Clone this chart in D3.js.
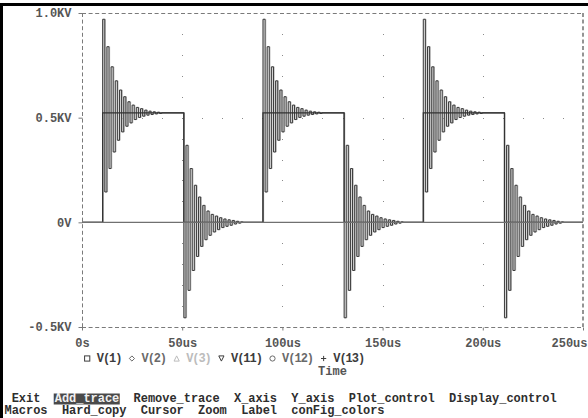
<!DOCTYPE html>
<html>
<head>
<meta charset="utf-8">
<script src="https://cdn.jsdelivr.net/npm/d3@7"></script>
<style>
  body { margin: 0; background: #fff; }
  svg { display: block; }
  text { font-family: "Liberation Mono", "DejaVu Sans Mono", monospace; font-size: 12px; font-weight: bold; }
</style>
</head>
<body>
<div id="container"></div>
<script>
// axis ticks
const xTicks = [0, 50, 100, 150, 200, 250];
const xTickLabels = ["0s", "50us", "100us", "150us", "200us", "250us"];
const yTicks = [-0.5, 0, 0.5, 1.0];
const yTickLabels = ["-0.5KV", "0V", "0.5KV", "1.0KV"];

// square input V(1), times in us, levels in KV
const riseTimes = [10.3, 90.3, 170.3];
const fallTimes = [50.8, 130.8, 210.8];
const highLevel = 0.523;

// ringing extremes, one every ringStep us
const ringStep = 1.05;
const ringRise = [0.970, 0.145, 0.839, 0.257, 0.743, 0.336, 0.676, 0.392, 0.632, 0.432,
                  0.600, 0.459, 0.576, 0.475, 0.560, 0.491, 0.549, 0.501, 0.543, 0.507,
                  0.536, 0.512, 0.531, 0.515, 0.528, 0.518, 0.526, 0.520];
const ringFall = [-0.456, 0.368, -0.325, 0.257, -0.230, 0.177, -0.163, 0.121, -0.115, 0.081,
                  -0.083, 0.054, -0.062, 0.038, -0.046, 0.030, -0.035, 0.022, -0.025, 0.016,
                  -0.019, 0.012, -0.014, 0.009, -0.008, 0.005, -0.004, 0.002];

// legend
const legendNames = ["V(1)", "V(2)", "V(3)", "V(11)", "V(12)", "V(13)"];
const legendSymbols = ["square", "diamond", "triangle", "triangleDown", "circle", "plus"];
const legendColors = ["#3c3c3c", "#6a6a6a", "#bcbcbc", "#3c3c3c", "#6a6a6a", "#3c3c3c"];

// menu
const menuLine1 = ["Exit", "Add_trace", "Remove_trace", "X_axis", "Y_axis", "Plot_control", "Display_control"];
const menuLine2 = ["Macros", "Hard_copy", "Cursor", "Zoom", "Label", "conFig_colors"];

const W = 588, H = 418;
const charW = 7.17;     // menu text cell
const legendW = 6.39;   // legend text cell

const svg = d3.select("#container").append("svg")
    .attr("width", W)
    .attr("height", H);

var x = d3.scaleLinear().domain([0, 250]).range([82, 583]);
var y = d3.scaleLinear().domain([-0.5, 1.0]).range([327, 13]);

// frame of the screen
svg.append("rect").attr("x", 0).attr("y", 3).attr("width", W).attr("height", 3).attr("fill", "#000");

// dotted grid
var gridG = svg.append("g").attr("fill", "#8a8a8a");
xTicks.slice(1, -1).forEach(function(t) {
    d3.range(-4, 10).forEach(function(k) {
        gridG.append("rect").attr("x", Math.round(x(t))).attr("y", Math.round(y(k / 10)))
            .attr("width", 1).attr("height", 1);
    });
});
[0.5].forEach(function(v) {
    d3.range(1, 25).forEach(function(k) {
        gridG.append("rect").attr("x", Math.round(x(k * 10))).attr("y", Math.round(y(v)))
            .attr("width", 1).attr("height", 1);
    });
});

// dashed border
var border = svg.append("g")
    .attr("stroke", "#7a7a7a")
    .attr("stroke-width", 1)
    .attr("stroke-dasharray", "4,2.6")
    .attr("fill", "none");
border.append("line").attr("x1", x(0)).attr("x2", x(250)).attr("y1", y(1.0) + 0.5).attr("y2", y(1.0) + 0.5);
border.append("line").attr("x1", x(0)).attr("x2", x(250)).attr("y1", y(-0.5) + 0.5).attr("y2", y(-0.5) + 0.5);
border.append("line").attr("x1", x(0) + 0.5).attr("x2", x(0) + 0.5).attr("y1", y(1.0)).attr("y2", y(-0.5));
border.append("line").attr("x1", x(250)).attr("x2", x(250)).attr("y1", y(1.0)).attr("y2", y(-0.5))
    .attr("stroke-width", 1.6);

// axes (ticks + labels)
var yAxis = svg.append("g")
    .attr("transform", "translate(" + (x(0) + 0.5) + ",0)")
    .call(d3.axisLeft(y).tickValues(yTicks).tickSize(4).tickPadding(7)
        .tickFormat(function(d, i) { return yTickLabels[i]; }));
var xAxis = svg.append("g")
    .attr("transform", "translate(0," + (y(-0.5) + 0.5) + ")")
    .call(d3.axisBottom(x).tickValues(xTicks).tickSize(3).tickPadding(7)
        .tickFormat(function(d, i) { return xTickLabels[i]; }));
svg.selectAll(".domain").remove();
svg.selectAll(".tick line").attr("stroke", "#7a7a7a");
svg.selectAll(".tick text")
    .attr("fill", "#555")
    .attr("font-family", "Liberation Mono, DejaVu Sans Mono, monospace")
    .attr("font-size", 12)
    .attr("font-weight", "bold");
xAxis.selectAll(".tick text").attr("dy", "0.75em");
xAxis.selectAll(".tick").filter(function(d) { return d === 250; })
    .select("text").attr("text-anchor", "end").attr("dx", 4);

// traces
function squareTrace() {
    var pts = [[0, 0]];
    riseTimes.forEach(function(r, i) {
        pts.push([r, 0], [r, highLevel], [fallTimes[i], highLevel], [fallTimes[i], 0]);
    });
    pts.push([250, 0]);
    return pts;
}

function ringTrace(shift) {
    var pts = [[0, 0]];
    riseTimes.forEach(function(r, i) {
        var f = fallTimes[i];
        pts.push([r + shift, 0]);
        ringRise.forEach(function(v, k) { pts.push([r + shift + k * ringStep, v]); });
        pts.push([r + shift + ringRise.length * ringStep, highLevel]);
        pts.push([f + shift, highLevel]);
        ringFall.forEach(function(v, k) { pts.push([f + shift + k * ringStep, v]); });
        pts.push([f + shift + ringFall.length * ringStep, 0]);
    });
    pts.push([250, 0]);
    return pts;
}

var stepLine = d3.line()
    .curve(d3.curveStepAfter)
    .x(function(d) { return x(d[0]); })
    .y(function(d) { return y(d[1]); });
var plainLine = d3.line()
    .x(function(d) { return x(d[0]); })
    .y(function(d) { return y(d[1]); });

function addTrace(pts, lineGen, sw, col) {
    svg.append("path")
        .datum(pts)
        .attr("fill", "none")
        .attr("stroke", col)
        .attr("stroke-width", sw)
        .attr("d", lineGen);
}

addTrace(ringTrace(0.35), stepLine, 1, "#bdbdbd");
addTrace(ringTrace(0), stepLine, 1, "#3a3a3a");
addTrace(squareTrace(), plainLine, 1.2, "#333");
// zero level drawn on top in gray
svg.append("line")
    .attr("x1", x(0)).attr("x2", x(250))
    .attr("y1", y(0)).attr("y2", y(0))
    .attr("stroke", "#707070").attr("stroke-width", 1.3);

// legend: "□ V(1) ◇ V(2) ..." on a narrow character grid
var legendY = 362;
var lg = svg.append("g");
var cell = 0;
legendNames.forEach(function(name, i) {
    var cx = 84 + (cell + 0.5) * legendW, cy = legendY - 3.5;
    var c = legendColors[i];
    var s = 2.6;
    var g = lg.append("g").attr("stroke", c).attr("fill", "none").attr("stroke-width", 1);
    if (legendSymbols[i] === "square") {
        g.append("rect").attr("x", cx - s).attr("y", cy - s).attr("width", 2 * s).attr("height", 2 * s);
    } else if (legendSymbols[i] === "diamond") {
        g.append("path").attr("d", `M${cx},${cy - s}L${cx + s},${cy}L${cx},${cy + s}L${cx - s},${cy}Z`);
    } else if (legendSymbols[i] === "triangle") {
        g.append("path").attr("d", `M${cx},${cy - s}L${cx + s},${cy + s}L${cx - s},${cy + s}Z`);
    } else if (legendSymbols[i] === "triangleDown") {
        g.append("path").attr("d", `M${cx - s},${cy - s}L${cx + s},${cy - s}L${cx},${cy + s}Z`);
    } else if (legendSymbols[i] === "circle") {
        g.append("circle").attr("cx", cx).attr("cy", cy).attr("r", s);
    } else {
        g.append("path").attr("d", `M${cx - s},${cy}H${cx + s}M${cx},${cy - s}V${cy + s}`);
    }
    lg.append("text")
        .attr("x", 84 + (cell + 2) * legendW)
        .attr("y", legendY)
        .attr("font-size", 11)
        .attr("textLength", name.length * legendW)
        .attr("fill", c)
        .text(name);
    cell += 3 + name.length;
});

svg.append("text")
    .attr("x", (x(0) + x(250)) / 2)
    .attr("y", 375)
    .attr("text-anchor", "middle")
    .attr("fill", "#555")
    .text("Time");

// menu lines
var menuX0 = 11.7;
var col = 0;
menuLine1.forEach(function(word, i) {
    var wx = menuX0 + col * charW;
    if (i === 1) {
        svg.append("rect")
            .attr("x", wx - 1).attr("y", 393.5)
            .attr("width", word.length * charW + 1.5).attr("height", 11)
            .attr("fill", "#4a4a4a");
    }
    svg.append("text")
        .attr("x", wx).attr("y", 401.8)
        .attr("font-size", 11.6)
        .attr("textLength", word.length * charW)
        .attr("fill", i === 1 ? "#f0f0f0" : "#2e2e2e")
        .text(word);
    col += word.length + 2;
});
col = -1;
menuLine2.forEach(function(word) {
    svg.append("text")
        .attr("x", menuX0 + col * charW).attr("y", 414.4)
        .attr("font-size", 11.6)
        .attr("textLength", word.length * charW)
        .attr("fill", "#2e2e2e")
        .text(word);
    col += word.length + 2;
});
// screen frame, left edge over the first letter of the second menu line
svg.append("rect").attr("x", 0).attr("y", 3).attr("width", 3).attr("height", H).attr("fill", "#000");
</script>
</body>
</html>
